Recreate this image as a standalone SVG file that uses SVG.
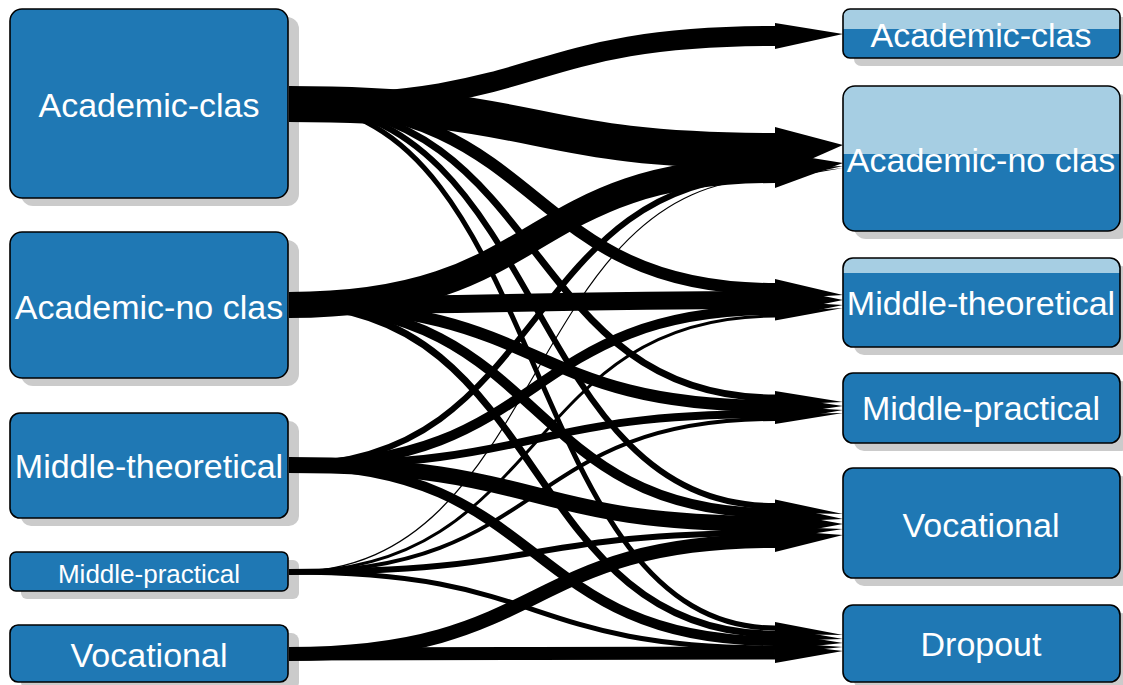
<svg xmlns="http://www.w3.org/2000/svg" width="1123" height="685" viewBox="0 0 1123 685">
<style>
.shadow{fill:#cbcbcb;}
.dark{fill:#1f78b4;}
.light{fill:#a6cee3;}
.outline{fill:none;stroke:#000;stroke-width:1.6;}
.lbl{font-family:"Liberation Sans",Arial,sans-serif;font-size:34px;fill:#fff;text-anchor:middle;}
.flow{fill:none;stroke:#000;stroke-linecap:butt;}
.head{fill:#000;}
</style>
<defs>
<clipPath id="cT1"><rect x="843" y="9" width="277" height="49" rx="7"/></clipPath>
<clipPath id="cT2"><rect x="843" y="86" width="277" height="145" rx="12"/></clipPath>
<clipPath id="cT3"><rect x="843" y="258" width="277" height="89" rx="10"/></clipPath>
</defs>
<rect width="1123" height="685" fill="#fff"/>

<g id="L1">
<rect class="shadow" x="21" y="17" width="278" height="189" rx="12"/>
<rect class="dark" x="10" y="9" width="278" height="189" rx="12"/>
<rect class="outline" x="10" y="9" width="278" height="189" rx="12"/>
<text class="lbl" x="149" y="117">Academic-clas</text>
</g>
<g id="L2">
<rect class="shadow" x="21" y="240" width="278" height="146" rx="12"/>
<rect class="dark" x="10" y="232" width="278" height="146" rx="12"/>
<rect class="outline" x="10" y="232" width="278" height="146" rx="12"/>
<text class="lbl" x="149" y="319">Academic-no clas</text>
</g>
<g id="L3">
<rect class="shadow" x="21" y="421" width="278" height="105" rx="10"/>
<rect class="dark" x="10" y="413" width="278" height="105" rx="10"/>
<rect class="outline" x="10" y="413" width="278" height="105" rx="10"/>
<text class="lbl" x="149" y="478">Middle-theoretical</text>
</g>
<g id="L4">
<rect class="shadow" x="21" y="560" width="278" height="39" rx="6"/>
<rect class="dark" x="10" y="552" width="278" height="39" rx="6"/>
<rect class="outline" x="10" y="552" width="278" height="39" rx="6"/>
<text class="lbl" x="149" y="583" style="font-size:26px">Middle-practical</text>
</g>
<g id="L5">
<rect class="shadow" x="21" y="633" width="278" height="57" rx="8"/>
<rect class="dark" x="10" y="625" width="278" height="57" rx="8"/>
<rect class="outline" x="10" y="625" width="278" height="57" rx="8"/>
<text class="lbl" x="149" y="667">Vocational</text>
</g>

<g id="T1">
<rect class="shadow" x="854" y="17" width="277" height="49" rx="7"/>
<rect class="dark" x="843" y="9" width="277" height="49" rx="7"/>
<rect class="light" x="843" y="9" width="277" height="20" clip-path="url(#cT1)"/>
<rect class="outline" x="843" y="9" width="277" height="49" rx="7"/>
<text class="lbl" x="981" y="47">Academic-clas</text>
</g>
<g id="T2">
<rect class="shadow" x="854" y="94" width="277" height="145" rx="12"/>
<rect class="dark" x="843" y="86" width="277" height="145" rx="12"/>
<rect class="light" x="843" y="86" width="277" height="68" clip-path="url(#cT2)"/>
<rect class="outline" x="843" y="86" width="277" height="145" rx="12"/>
<text class="lbl" x="981" y="172">Academic-no clas</text>
</g>
<g id="T3">
<rect class="shadow" x="854" y="266" width="277" height="89" rx="10"/>
<rect class="dark" x="843" y="258" width="277" height="89" rx="10"/>
<rect class="light" x="843" y="258" width="277" height="15" clip-path="url(#cT3)"/>
<rect class="outline" x="843" y="258" width="277" height="89" rx="10"/>
<text class="lbl" x="981" y="315">Middle-theoretical</text>
</g>
<g id="T4">
<rect class="shadow" x="854" y="381" width="277" height="70" rx="10"/>
<rect class="dark" x="843" y="373" width="277" height="70" rx="10"/>
<rect class="outline" x="843" y="373" width="277" height="70" rx="10"/>
<text class="lbl" x="981" y="420">Middle-practical</text>
</g>
<g id="T5">
<rect class="shadow" x="854" y="476" width="277" height="110" rx="10"/>
<rect class="dark" x="843" y="468" width="277" height="110" rx="10"/>
<rect class="outline" x="843" y="468" width="277" height="110" rx="10"/>
<text class="lbl" x="981" y="537">Vocational</text>
</g>
<g id="T6">
<rect class="shadow" x="854" y="613" width="277" height="77" rx="10"/>
<rect class="dark" x="843" y="605" width="277" height="77" rx="10"/>
<rect class="outline" x="843" y="605" width="277" height="77" rx="10"/>
<text class="lbl" x="981" y="656">Dropout</text>
</g>

<g id="connectors">
<!-- from Academic-clas -->
<path class="flow" stroke-width="20" d="M289,104 C550,104 520,36 775,36"/>
<polygon class="head" points="775,23 843,34 775,49"/>
<path class="flow" stroke-width="36" d="M289,104 C550,104 520,151 775,151"/>
<polygon class="head" points="775,127 843,145 775,175"/>
<path class="flow" stroke-width="12" d="M289,104 C550,104 520,289 775,289"/>
<polygon class="head" points="775,279 843,295 775,299"/>
<path class="flow" stroke-width="7" d="M289,104 C550,104 520,398 775,398"/>
<polygon class="head" points="775,391 843,402 775,405"/>
<path class="flow" stroke-width="6" d="M289,104 C550,104 520,506 775,506"/>
<polygon class="head" points="775,499.5 843,514 775,512.5"/>
<path class="flow" stroke-width="5" d="M289,104 C550,104 520,628 775,628"/>
<polygon class="head" points="775,622 843,635 775,634"/>
<!-- from Academic-no clas -->
<path class="flow" stroke-width="26" d="M289,305 C550,305 520,170 775,170"/>
<polygon class="head" points="775,152 843,163 775,188"/>
<path class="flow" stroke-width="18" d="M289,305 C550,305 520,300 775,300"/>
<polygon class="head" points="775,286 843,300 775,314"/>
<path class="flow" stroke-width="12" d="M289,305 C550,305 520,406 775,406"/>
<polygon class="head" points="775,396 843,406 775,416"/>
<path class="flow" stroke-width="10" d="M289,305 C550,305 520,513 775,513"/>
<polygon class="head" points="775,504 843,519 775,522"/>
<path class="flow" stroke-width="7" d="M289,305 C550,305 520,634 775,634"/>
<polygon class="head" points="775,627 843,639 775,641"/>
<!-- from Middle-theoretical -->
<path class="flow" stroke-width="6" d="M289,465 C550,465 520,175 775,175"/>
<polygon class="head" points="775,168.5 843,166 775,181.5"/>
<path class="flow" stroke-width="10" d="M289,465 C550,465 520,310 775,310"/>
<polygon class="head" points="775,301 843,305 775,319"/>
<path class="flow" stroke-width="8" d="M289,465 C550,465 520,414 775,414"/>
<polygon class="head" points="775,406 843,410 775,422"/>
<path class="flow" stroke-width="16" d="M289,465 C550,465 520,524 775,524"/>
<polygon class="head" points="775,511.5 843,524 775,536.5"/>
<path class="flow" stroke-width="10" d="M289,465 C550,465 520,641 775,641"/>
<polygon class="head" points="775,632 843,643 775,650"/>
<!-- from Middle-practical -->
<path class="flow" stroke-width="1.2" d="M289,572 C550,572 520,178 775,178"/>
<polygon class="head" points="775,176 843,168 775,180"/>
<path class="flow" stroke-width="3" d="M289,572 C550,572 520,316 775,316"/>
<polygon class="head" points="775,311.5 843,308 775,320.5"/>
<path class="flow" stroke-width="4" d="M289,572 C550,572 520,419 775,419"/>
<polygon class="head" points="775,414 843,413 775,424"/>
<path class="flow" stroke-width="6" d="M289,572 C550,572 520,533 775,533"/>
<polygon class="head" points="775,526.5 843,529 775,539.5"/>
<path class="flow" stroke-width="5" d="M289,572 C550,572 520,648 775,648"/>
<polygon class="head" points="775,642 843,647 775,654"/>
<!-- from Vocational -->
<path class="flow" stroke-width="14" d="M289,654 C550,654 520,541 775,541"/>
<polygon class="head" points="775,530 843,535 775,552"/>
<path class="flow" stroke-width="13" d="M289,654 C550,654 520,653 775,653"/>
<polygon class="head" points="775,643 843,651 775,663"/>
</g>
</svg>
